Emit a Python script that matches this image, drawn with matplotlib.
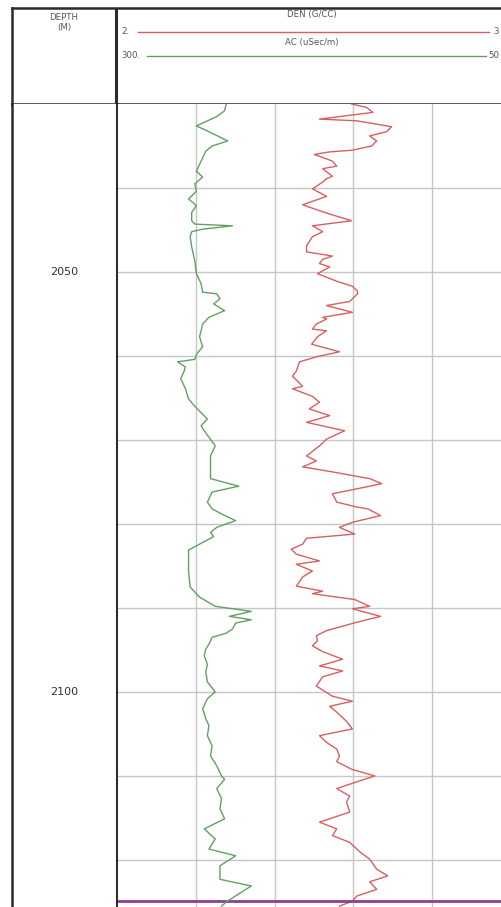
"""Well log track: density (DEN) and sonic (AC) against depth."""

import matplotlib

matplotlib.use("Agg")

import matplotlib.pyplot as plt
from matplotlib.transforms import blended_transform_factory

FIG_W, FIG_H = 501, 907

# depth window of the track (m)
TOP_DEPTH = 2030.0
BASE_DEPTH = 2125.6
GRID_DEPTHS = [2040, 2050, 2060, 2070, 2080, 2090, 2100, 2110, 2120]
DEPTH_LABELS = [2050, 2100]
MARKER_DEPTH = 2124.9

# curve scales as printed in the header
DEN_RANGE = (2.0, 3.0)
AC_RANGE = (300.0, 50.0)
DEN_GRID = [2.2, 2.4, 2.6, 2.8]

# AC (uSec/m)
AC_DEPTH = [
    2030.0, 2030.8, 2031.5, 2032.6, 2033.3, 2034.4, 2035.0, 2035.6, 2036.8, 2038.0,
    2038.7, 2039.5, 2040.4, 2041.3, 2042.1, 2042.9, 2043.9, 2044.3, 2044.5, 2044.9,
    2045.2, 2045.8, 2047.0, 2048.7, 2050.2, 2051.4, 2052.4, 2052.6, 2053.2, 2053.8,
    2054.6, 2055.4, 2056.2, 2057.0, 2057.7, 2058.9, 2059.8, 2060.4, 2060.7, 2061.3,
    2061.9, 2062.7, 2063.9, 2065.1, 2066.0, 2067.5, 2068.3, 2068.9, 2070.7, 2071.9,
    2073.1, 2074.6, 2075.5, 2076.2, 2077.4, 2078.2, 2078.8, 2079.6, 2080.4, 2081.0,
    2081.5, 2082.4, 2083.1, 2085.6, 2087.5, 2088.7, 2089.8, 2090.4, 2091.0, 2091.4,
    2091.8, 2092.5, 2093.0, 2093.5, 2094.3, 2094.9, 2095.7, 2096.7, 2097.6, 2098.8,
    2100.0, 2100.8, 2102.0, 2103.2, 2104.0, 2105.2, 2106.4, 2107.6, 2108.8, 2110.0,
    2110.4, 2111.5, 2112.7, 2113.9, 2115.1, 2116.3, 2117.5, 2118.7, 2119.5, 2120.7,
    2122.3, 2123.1, 2123.8, 2124.4, 2125.0, 2125.5,
]
AC_VALUES = [
    231, 232, 237, 250, 242, 230, 240, 244, 247, 250,
    246, 251, 250, 255, 250, 253, 253, 251, 227, 246,
    253, 254, 253, 251, 250, 247, 246, 237, 235, 239,
    232, 242, 246, 247, 248, 246, 250, 251, 262, 257,
    258, 260, 257, 255, 251, 243, 247, 245, 238, 241,
    241, 241, 223, 240, 243, 240, 234, 225, 237, 241,
    239, 248, 255, 255, 254, 248, 238, 215, 229, 215,
    225, 227, 231, 240, 242, 244, 245, 243, 244, 243,
    238, 243, 246, 244, 242, 243, 240, 241, 237, 234,
    232, 237, 234, 235, 232, 245, 238, 242, 225, 235,
    235, 215, 221, 226, 231, 234,
]

# DEN (g/cc)
DEN_DEPTH = [
    2030.0, 2030.4, 2031.0, 2031.8, 2032.0, 2032.7, 2033.3, 2033.8, 2034.4, 2035.0,
    2035.5, 2035.7, 2036.0, 2036.8, 2037.4, 2037.7, 2038.6, 2038.9, 2039.3, 2040.1,
    2041.0, 2042.0, 2042.7, 2043.1, 2043.9, 2044.5, 2045.2, 2045.8, 2046.9, 2047.6,
    2048.1, 2048.5, 2049.0, 2049.4, 2050.2, 2051.1, 2051.7, 2052.3, 2052.6, 2053.5,
    2054.0, 2054.8, 2055.4, 2055.6, 2056.2, 2056.8, 2057.0, 2057.7, 2058.6, 2059.5,
    2060.1, 2060.7, 2061.8, 2062.4, 2063.6, 2063.9, 2064.8, 2065.5, 2066.3, 2067.1,
    2067.9, 2068.9, 2069.9, 2070.7, 2071.9, 2072.5, 2073.2, 2073.8, 2074.6, 2075.2,
    2075.8, 2076.4, 2077.4, 2078.0, 2078.2, 2079.0, 2079.8, 2080.4, 2081.2, 2081.7,
    2082.4, 2083.0, 2083.6, 2084.4, 2084.8, 2085.6, 2086.3, 2087.4, 2088.0, 2088.3,
    2089.0, 2089.8, 2090.1, 2091.0, 2091.7, 2092.7, 2093.3, 2093.9, 2094.5, 2095.2,
    2096.1, 2096.9, 2097.5, 2098.2, 2099.3, 2100.5, 2101.1, 2101.7, 2102.4, 2103.5,
    2104.4, 2105.2, 2106.0, 2106.8, 2107.6, 2108.3, 2109.2, 2110.0, 2110.7, 2111.5,
    2112.4, 2113.1, 2114.3, 2115.5, 2116.3, 2117.1, 2117.9, 2119.0, 2119.9, 2121.1,
    2121.9, 2122.6, 2123.5, 2124.3, 2124.9, 2125.5,
]
DEN_VALUES = [
    2.596, 2.634, 2.650, 2.514, 2.609, 2.698, 2.685, 2.642, 2.660, 2.647,
    2.598, 2.540, 2.501, 2.547, 2.558, 2.522, 2.547, 2.532, 2.522, 2.496,
    2.532, 2.471, 2.514, 2.540, 2.596, 2.496, 2.522, 2.496, 2.481, 2.481,
    2.547, 2.522, 2.514, 2.540, 2.509, 2.558, 2.598, 2.611, 2.611, 2.591,
    2.532, 2.598, 2.522, 2.532, 2.506, 2.496, 2.532, 2.509, 2.494, 2.565,
    2.506, 2.463, 2.455, 2.445, 2.471, 2.445, 2.496, 2.514, 2.488, 2.540,
    2.481, 2.578, 2.532, 2.514, 2.481, 2.506, 2.471, 2.547, 2.642, 2.673,
    2.611, 2.547, 2.558, 2.611, 2.637, 2.670, 2.598, 2.565, 2.604, 2.481,
    2.471, 2.442, 2.455, 2.514, 2.455, 2.496, 2.471, 2.455, 2.522, 2.496,
    2.604, 2.642, 2.598, 2.670, 2.609, 2.532, 2.506, 2.509, 2.496, 2.522,
    2.573, 2.514, 2.573, 2.522, 2.506, 2.547, 2.598, 2.540, 2.558, 2.583,
    2.598, 2.514, 2.532, 2.558, 2.565, 2.558, 2.596, 2.655, 2.609, 2.558,
    2.591, 2.583, 2.591, 2.514, 2.558, 2.547, 2.591, 2.616, 2.642, 2.660,
    2.688, 2.642, 2.660, 2.609, 2.598, 2.565,
]

DEN_COLOR = "#d65f62"
AC_COLOR = "#62a062"
MARKER_COLOR = "#8e3f8e"
GRID_COLOR = "#c6c6c6"
FRAME_COLOR = "#2b2b2b"
TEXT_COLOR = "#555555"
HEAD_SIZE = 6.2


def px_box(x0, y0, x1, y1):
    """Pixel box (top-left origin) to figure fraction rect."""
    return [x0 / FIG_W, 1 - y1 / FIG_H, (x1 - x0) / FIG_W, (y1 - y0) / FIG_H]


fig = plt.figure(figsize=(FIG_W / 100, FIG_H / 100), dpi=100)
fig.patch.set_facecolor("white")

# ---- header -------------------------------------------------------------
head = fig.add_axes(px_box(12, 8, 510, 104))
head.set_xlim(12, 510)
head.set_ylim(104, 8)
head.set_xticks([])
head.set_yticks([])
for side in ("top", "left", "bottom"):
    head.spines[side].set_color(FRAME_COLOR)
    head.spines[side].set_linewidth(1.8)
head.spines["right"].set_visible(False)
head.axvline(116.5, color=FRAME_COLOR, lw=2.2)

head.text(64, 17.5, "DEPTH", ha="center", va="center", fontsize=HEAD_SIZE, color=TEXT_COLOR)
head.text(64, 27.5, "(M)", ha="center", va="center", fontsize=HEAD_SIZE, color=TEXT_COLOR)

head.text(312, 14, "DEN (G/CC)", ha="center", va="center", fontsize=HEAD_SIZE, color=TEXT_COLOR)
head.plot([138, 489], [32, 32], color=DEN_COLOR, lw=1.0)
head.text(121, 32, f"{DEN_RANGE[0]:.0f}.", ha="left", va="center", fontsize=HEAD_SIZE, color=TEXT_COLOR)
head.text(499, 32, f"{DEN_RANGE[1]:.0f}", ha="right", va="center", fontsize=HEAD_SIZE, color=TEXT_COLOR)

head.text(312, 43, "AC (uSec/m)", ha="center", va="center", fontsize=HEAD_SIZE, color=TEXT_COLOR)
head.plot([147, 486], [56, 56], color=AC_COLOR, lw=1.0)
head.text(121, 56, f"{AC_RANGE[0]:.0f}.", ha="left", va="center", fontsize=HEAD_SIZE, color=TEXT_COLOR)
head.text(499, 56, f"{AC_RANGE[1]:.0f}", ha="right", va="center", fontsize=HEAD_SIZE, color=TEXT_COLOR)

# ---- depth column -------------------------------------------------------
depth_ax = fig.add_axes(px_box(12, 104, 117, 907))
depth_ax.set_ylim(BASE_DEPTH, TOP_DEPTH)
depth_ax.set_xlim(0, 1)
depth_ax.set_xticks([])
depth_ax.set_yticks([])
depth_ax.spines["bottom"].set_visible(False)
depth_ax.spines["top"].set_visible(False)
depth_ax.spines["left"].set_color(FRAME_COLOR)
depth_ax.spines["left"].set_linewidth(1.8)
depth_ax.spines["right"].set_color(FRAME_COLOR)
depth_ax.spines["right"].set_linewidth(2.2)

blend = blended_transform_factory(depth_ax.transAxes, depth_ax.transData)
for depth in DEPTH_LABELS:
    depth_ax.text(0.5, depth, f"{depth}", transform=blend, ha="center",
                  va="center", fontsize=8, color="#333333")

# ---- curve track ------------------------------------------------------------
track = fig.add_axes(px_box(118, 104, 510, 907))
track.set_xlim(*DEN_RANGE)
track.set_ylim(BASE_DEPTH, TOP_DEPTH)
track.set_xticks(DEN_GRID)
track.set_yticks(GRID_DEPTHS)
track.tick_params(length=0, labelbottom=False, labelleft=False)
track.grid(True, color=GRID_COLOR, lw=1.0)
track.set_axisbelow(True)
for side in ("left", "right", "bottom", "top"):
    track.spines[side].set_visible(False)

track.plot(DEN_VALUES, DEN_DEPTH, color=DEN_COLOR, lw=1.0, zorder=3)
track.axhline(MARKER_DEPTH, color=MARKER_COLOR, lw=2.0, zorder=4)

ac_ax = track.twiny()
ac_ax.set_xlim(*AC_RANGE)
ac_ax.set_xticks([])
for side in ("left", "right", "bottom", "top"):
    ac_ax.spines[side].set_visible(False)
ac_ax.plot(AC_VALUES, AC_DEPTH, color=AC_COLOR, lw=1.0, zorder=3)

fig.savefig("out.png", dpi=100)
